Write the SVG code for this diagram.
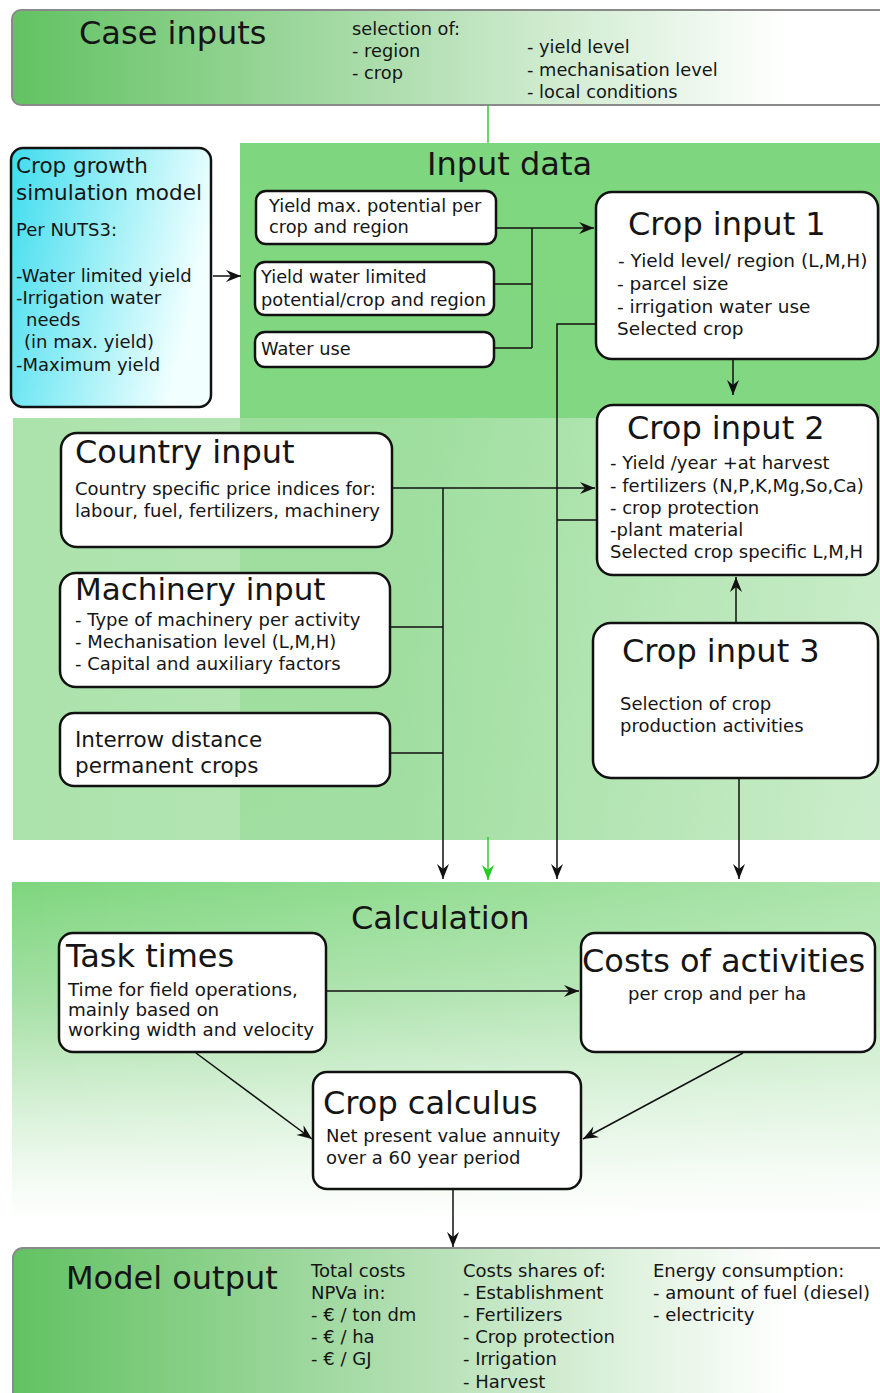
<svg xmlns="http://www.w3.org/2000/svg" width="880" height="1393" viewBox="0 0 880 1393">
<style>
text{font-family:"DejaVu Sans",Verdana,sans-serif;fill:#151515}
.t32{font-size:32px}
.b{font-size:18px}
.box{fill:#fff;stroke:#111;stroke-width:2.5}
.con{fill:none;stroke:#111;stroke-width:1.5}
.gcon{fill:none;stroke:#33cc33;stroke-width:1.5}
</style>
<defs>
<linearGradient id="gCase" x1="0" y1="0" x2="1" y2="0">
<stop offset="0" stop-color="#62c262"/><stop offset="0.45" stop-color="#b2dfb2"/><stop offset="0.88" stop-color="#ffffff"/>
</linearGradient>
<linearGradient id="gIn" x1="0" y1="0" x2="0" y2="1">
<stop offset="0" stop-color="#7ed67e"/><stop offset="0.4" stop-color="#82d882"/><stop offset="1" stop-color="#98dc98"/>
</linearGradient>
<linearGradient id="gLow" x1="0" y1="0" x2="1" y2="0">
<stop offset="0" stop-color="#a0dea0" stop-opacity="0.88"/><stop offset="0.45" stop-color="#a4dfa4" stop-opacity="0.8"/><stop offset="1" stop-color="#d8f1d8" stop-opacity="0.8"/>
</linearGradient>
<linearGradient id="gCalc" x1="0" y1="0" x2="0" y2="1">
<stop offset="0" stop-color="#7ed67e"/><stop offset="0.35" stop-color="#a6e0a6"/><stop offset="0.65" stop-color="#d5f0d5"/><stop offset="0.85" stop-color="#f0faf0"/><stop offset="1" stop-color="#ffffff"/>
</linearGradient>
<linearGradient id="gCalcH" x1="0" y1="0" x2="1" y2="0">
<stop offset="0" stop-color="#ffffff" stop-opacity="0"/><stop offset="1" stop-color="#ffffff" stop-opacity="0.35"/>
</linearGradient>
<linearGradient id="gCyan" x1="0" y1="0" x2="1" y2="0.3">
<stop offset="0" stop-color="#3edcee"/><stop offset="0.6" stop-color="#aaf2f8"/><stop offset="1" stop-color="#f2ffff"/>
</linearGradient>
<marker id="ah" viewBox="-16 -8 18 16" refX="0" refY="0" markerWidth="18" markerHeight="16" markerUnits="userSpaceOnUse" orient="auto">
<path d="M0,0 L-15,-6 L-10,0 L-15,6 Z" fill="#111"/>
</marker>
<marker id="ahg" viewBox="-16 -8 18 16" refX="0" refY="0" markerWidth="18" markerHeight="16" markerUnits="userSpaceOnUse" orient="auto">
<path d="M0,0 L-15,-6 L-10,0 L-15,6 Z" fill="#22cc22"/>
</marker>
</defs>
<rect width="880" height="1393" fill="#ffffff"/>

<g id="panels">
<rect id="input-data-panel" x="240" y="143" width="640" height="697" fill="url(#gIn)"/>
<rect id="lower-input-panel" x="13" y="418" width="867" height="422" fill="url(#gLow)"/>
<rect id="calculation-panel" x="12" y="882" width="868" height="340" fill="url(#gCalc)"/>
<rect x="12" y="882" width="868" height="340" fill="url(#gCalcH)"/>
<text class="t32" x="427" y="175">Input data</text>
<text class="t32" x="351" y="929">Calculation</text>
</g>

<g id="case-inputs">
<rect x="12" y="10" width="880" height="95" rx="9" fill="url(#gCase)" stroke="#8a8a8a" stroke-width="2"/>
<text class="t32" x="79" y="44">Case inputs</text>
<text x="352" y="35" style="font-size:17.8px">selection of:</text>
<text x="352" y="57" style="font-size:17.8px">- region</text>
<text x="352" y="79" style="font-size:17.8px">- crop</text>
<text x="527" y="53" style="font-size:17.8px">- yield level</text>
<text x="527" y="76" style="font-size:17.8px">- mechanisation level</text>
<text x="527" y="98" style="font-size:17.8px">- local conditions</text>
</g>

<g id="crop-growth-model">
<rect x="11" y="148" width="200" height="259" rx="12" fill="url(#gCyan)" stroke="#111" stroke-width="2.5"/>
<text x="16" y="173" style="font-size:21.5px">Crop growth</text>
<text x="16" y="200" style="font-size:21.5px">simulation model</text>
<text class="b" x="16" y="236">Per NUTS3:</text>
<text class="b" x="16" y="282">-Water limited yield</text>
<text class="b" x="16" y="304">-Irrigation water</text>
<text class="b" x="26" y="326">needs</text>
<text class="b" x="24" y="348">(in max. yield)</text>
<text class="b" x="16" y="371">-Maximum yield</text>
</g>

<g id="yield-max">
<rect class="box" x="256" y="191" width="240" height="53" rx="10"/>
<text x="269" y="212" style="font-size:17.8px">Yield max. potential per</text>
<text x="269" y="233" style="font-size:17.8px">crop and region</text>
</g>
<g id="yield-water-limited">
<rect class="box" x="255" y="262" width="239" height="53" rx="10"/>
<text x="261" y="283" style="font-size:17.8px">Yield water limited</text>
<text x="261" y="306" style="font-size:17.8px">potential/crop and region</text>
</g>
<g id="water-use">
<rect class="box" x="255" y="332" width="239" height="35" rx="10"/>
<text x="261" y="355" style="font-size:17.8px">Water use</text>
</g>

<g id="crop-input-1">
<rect class="box" x="596" y="192" width="282" height="167" rx="16"/>
<text class="t32" x="628" y="235">Crop input 1</text>
<text x="618" y="267" style="font-size:18.5px">- Yield level/ region (L,M,H)</text>
<text x="617" y="290" style="font-size:18.5px">- parcel size</text>
<text x="617" y="313" style="font-size:18.5px">- irrigation water use</text>
<text x="617" y="335" style="font-size:18.5px">Selected crop</text>
</g>

<g id="crop-input-2">
<rect class="box" x="597" y="405" width="281" height="170" rx="16"/>
<text class="t32" x="627" y="439">Crop input 2</text>
<text class="b" x="610" y="469">- Yield /year +at harvest</text>
<text class="b" x="610" y="492">- fertilizers (N,P,K,Mg,So,Ca)</text>
<text class="b" x="610" y="514">- crop protection</text>
<text class="b" x="610" y="536">-plant material</text>
<text class="b" x="610" y="558">Selected crop specific L,M,H</text>
</g>

<g id="crop-input-3">
<rect class="box" x="593" y="623" width="285" height="155" rx="18"/>
<text class="t32" x="622" y="662">Crop input 3</text>
<text class="b" x="620" y="710">Selection of crop</text>
<text class="b" x="620" y="732">production activities</text>
</g>

<g id="country-input">
<rect class="box" x="61" y="433" width="331" height="114" rx="16"/>
<text class="t32" x="75" y="463">Country input</text>
<text class="b" x="75" y="495">Country specific price indices for:</text>
<text class="b" x="75" y="517">labour, fuel, fertilizers, machinery</text>
</g>

<g id="machinery-input">
<rect class="box" x="60" y="573" width="330" height="114" rx="16"/>
<text x="75" y="600" style="font-size:31px">Machinery input</text>
<text class="b" x="75" y="626">- Type of machinery per activity</text>
<text class="b" x="75" y="648">- Mechanisation level (L,M,H)</text>
<text class="b" x="75" y="670">- Capital and auxiliary factors</text>
</g>

<g id="interrow-distance">
<rect class="box" x="60" y="713" width="330" height="73" rx="14"/>
<text x="75" y="747" style="font-size:21.5px">Interrow distance</text>
<text x="75" y="773" style="font-size:21.5px">permanent crops</text>
</g>

<g id="task-times">
<rect class="box" x="59" y="933" width="267" height="119" rx="14"/>
<text class="t32" x="66" y="967">Task times</text>
<text x="68" y="996" style="font-size:18.3px">Time for field operations,</text>
<text x="68" y="1016" style="font-size:18.3px">mainly based on</text>
<text x="68" y="1036" style="font-size:18.3px">working width and velocity</text>
</g>

<g id="costs-of-activities">
<rect class="box" x="581" y="933" width="294" height="119" rx="14"/>
<text class="t32" x="582" y="972">Costs of activities</text>
<text class="b" x="628" y="1000">per crop and per ha</text>
</g>

<g id="crop-calculus">
<rect class="box" x="313" y="1072" width="268" height="117" rx="14"/>
<text class="t32" x="323" y="1114">Crop calculus</text>
<text class="b" x="326" y="1142">Net present value annuity</text>
<text class="b" x="326" y="1164">over a 60 year period</text>
</g>

<g id="model-output">
<rect x="13" y="1248" width="880" height="160" rx="10" fill="url(#gCase)" stroke="#8a8a8a" stroke-width="2"/>
<text class="t32" x="66" y="1289">Model output</text>
<text class="b" x="311" y="1277">Total costs</text>
<text class="b" x="311" y="1299">NPVa in:</text>
<text class="b" x="311" y="1321">- € / ton dm</text>
<text class="b" x="311" y="1343">- € / ha</text>
<text class="b" x="311" y="1365">- € / GJ</text>
<text class="b" x="463" y="1277">Costs shares of:</text>
<text class="b" x="463" y="1299">- Establishment</text>
<text class="b" x="463" y="1321">- Fertilizers</text>
<text class="b" x="463" y="1343">- Crop protection</text>
<text class="b" x="463" y="1365">- Irrigation</text>
<text class="b" x="463" y="1388">- Harvest</text>
<text class="b" x="653" y="1277">Energy consumption:</text>
<text class="b" x="653" y="1299">- amount of fuel (diesel)</text>
<text class="b" x="653" y="1321">- electricity</text>
</g>

<g id="connectors">
<path class="gcon" d="M488,105 V143"/>
<path class="con" d="M213,276 H241" marker-end="url(#ah)"/>
<path class="con" d="M496,228 H594" marker-end="url(#ah)"/>
<path class="con" d="M532,228 V348 M494,284 H532 M494,348 H532"/>
<path class="con" d="M596,324 H557 V879" marker-end="url(#ah)"/>
<path class="con" d="M557,520 H597"/>
<path class="con" d="M392,488 H595" marker-end="url(#ah)"/>
<path class="con" d="M443,488 V879" marker-end="url(#ah)"/>
<path class="con" d="M390,627 H443 M390,753 H443"/>
<path class="con" d="M733,359 V395" marker-end="url(#ah)"/>
<path class="con" d="M736,622 V577" marker-end="url(#ah)"/>
<path class="con" d="M739,778 V879" marker-end="url(#ah)"/>
<path class="gcon" d="M488,837 V880" marker-end="url(#ahg)"/>
<path class="con" d="M327,991 H579" marker-end="url(#ah)"/>
<path class="con" d="M196,1053 L312,1139" marker-end="url(#ah)"/>
<path class="con" d="M743,1053 L583,1139" marker-end="url(#ah)"/>
<path class="con" d="M453,1189 V1247" marker-end="url(#ah)"/>
</g>
</svg>
